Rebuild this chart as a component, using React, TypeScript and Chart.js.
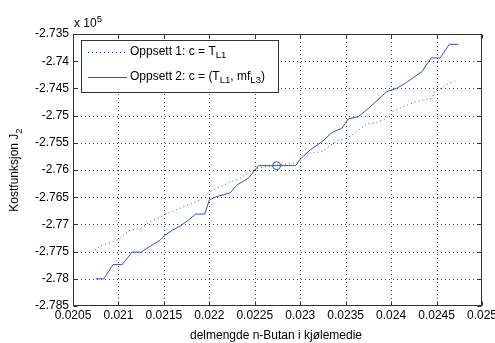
import { useEffect, useRef } from "react";
import { Chart, registerables } from "chart.js";
Chart.register(...registerables);

const xTickValues = [0.0205, 0.021, 0.0215, 0.022, 0.0225, 0.023, 0.0235, 0.024, 0.0245, 0.025];
const xTickLabels = ["0.0205", "0.021", "0.0215", "0.022", "0.0225", "0.023", "0.0235", "0.024", "0.0245", "0.025"];
const yTickValues = [-2.785, -2.78, -2.775, -2.77, -2.765, -2.76, -2.755, -2.75, -2.745, -2.74, -2.735];
const yTickLabels = ["-2.785", "-2.78", "-2.775", "-2.77", "-2.765", "-2.76", "-2.755", "-2.75", "-2.745", "-2.74", "-2.735"];

const series1Label = "Oppsett 1: c = T_L1";
const series1X = [0.02074, 0.02082, 0.02098, 0.02104, 0.02113, 0.02124, 0.02135, 0.02146, 0.02157, 0.02171, 0.02186, 0.02197, 0.022, 0.02212, 0.02223, 0.02234, 0.02243, 0.02252, 0.0227, 0.0229, 0.023, 0.02311, 0.02325, 0.02331, 0.02342, 0.02351, 0.02362, 0.02373, 0.02384, 0.02395, 0.02402, 0.02413, 0.02428, 0.02445, 0.02448, 0.02456, 0.02463, 0.0247];
const series1Y = [-2.7747, -2.7738, -2.773, -2.7722, -2.771, -2.7708, -2.7695, -2.7686, -2.7677, -2.7668, -2.7658, -2.7646, -2.764, -2.7631, -2.7622, -2.7615, -2.7605, -2.7597, -2.7592, -2.7588, -2.7585, -2.7569, -2.7566, -2.7557, -2.7545, -2.7542, -2.753, -2.7515, -2.7513, -2.7505, -2.7492, -2.7484, -2.7474, -2.7468, -2.7453, -2.745, -2.7441, -2.7437];

const series2Label = "Oppsett 2: c = (T_L1, mf_L3)";
const series2X = [0.02075, 0.02084, 0.02094, 0.02104, 0.02115, 0.02125, 0.02134, 0.02146, 0.02151, 0.0216, 0.02168, 0.02177, 0.02185, 0.02195, 0.022, 0.02208, 0.02223, 0.0223, 0.02243, 0.02254, 0.02295, 0.023, 0.02311, 0.02324, 0.02335, 0.02346, 0.02353, 0.02364, 0.02377, 0.02395, 0.02406, 0.02417, 0.02434, 0.02444, 0.02454, 0.02464, 0.02474];
const series2Y = [-2.78, -2.78, -2.7774, -2.7774, -2.7751, -2.7751, -2.7741, -2.7729, -2.772, -2.771, -2.7703, -2.7692, -2.7681, -2.7681, -2.7655, -2.7649, -2.7642, -2.7628, -2.7615, -2.7592, -2.7592, -2.758, -2.7563, -2.7548, -2.7531, -2.7523, -2.7506, -2.7502, -2.7484, -2.7456, -2.745, -2.7439, -2.7419, -2.7394, -2.7394, -2.7369, -2.7369];

const markerX = [0.02274];
const markerY = [-2.7592];

const xTitle = "delmengde n-Butan i kjølemedie";
const yTitle = "Kostfunksjon J_2";
const yExponent = "x 10^5";

const FONT = "'Liberation Sans', Arial, Helvetica, sans-serif";
const LINE_COLOR = "#2f4fc4";
const AXIS_COLOR = "#333";

type Part = { t: string; sub?: boolean; sup?: boolean };

function parseRich(s: string): Part[] {
  const parts: Part[] = [];
  const re = /([_^])(\w+)|([^_^]+)/g;
  let m;
  while ((m = re.exec(s))) {
    if (m[3]) parts.push({ t: m[3] });
    else {
      // subscripts in these labels: L1, L3, 2 and superscript 5
      let tok = m[2];
      let rest = "";
      if (m[1] === "_" && /^L\d/.test(tok)) { rest = tok.slice(2); tok = tok.slice(0, 2); }
      parts.push(m[1] === "_" ? { t: tok, sub: true } : { t: tok, sup: true });
      if (rest) parts.push({ t: rest });
    }
  }
  return parts;
}

function richWidth(ctx: CanvasRenderingContext2D, parts: Part[], size: number) {
  let w = 0;
  for (const p of parts) {
    ctx.font = `${p.sub || p.sup ? size * 0.8 : size}px ${FONT}`;
    w += ctx.measureText(p.t).width;
  }
  return w;
}

function drawRich(ctx: CanvasRenderingContext2D, parts: Part[], x: number, y: number, size: number) {
  ctx.textBaseline = "middle";
  ctx.textAlign = "left";
  let cx = x;
  for (const p of parts) {
    const s = p.sub || p.sup ? size * 0.8 : size;
    ctx.font = `${s}px ${FONT}`;
    const dy = p.sub ? size * 0.35 : p.sup ? -size * 0.4 : 0;
    ctx.fillText(p.t, cx, y + dy);
    cx += ctx.measureText(p.t).width;
  }
}

const decorPlugin = {
  id: "decor",
  beforeDatasetsDraw(chart: any) {
    const { ctx, chartArea: a, scales } = chart;
    ctx.save();
    ctx.strokeStyle = "rgba(0,0,0,0.75)";
    ctx.lineWidth = 1;
    ctx.setLineDash([1, 3]);
    for (const v of xTickValues.slice(1, -1)) {
      const px = Math.round(scales.x.getPixelForValue(v)) + 0.5;
      ctx.beginPath();
      ctx.moveTo(px, a.top);
      ctx.lineTo(px, a.bottom);
      ctx.stroke();
    }
    for (const v of yTickValues.slice(1, -1)) {
      const py = Math.round(scales.y.getPixelForValue(v)) + 0.5;
      ctx.beginPath();
      ctx.moveTo(a.left, py);
      ctx.lineTo(a.right, py);
      ctx.stroke();
    }
    ctx.restore();
  },
  afterDraw(chart: any) {
    const { ctx, chartArea: a, scales } = chart;
    ctx.save();
    const L = Math.round(a.left) + 0.5, R = Math.round(a.right) - 0.5;
    const T = Math.round(a.top) + 0.5, B = Math.round(a.bottom) - 0.5;
    ctx.strokeStyle = AXIS_COLOR;
    ctx.lineWidth = 1;
    ctx.setLineDash([]);
    ctx.strokeRect(L, T, R - L, B - T);
    const tl = 4;
    ctx.beginPath();
    for (const v of xTickValues) {
      const px = Math.round(scales.x.getPixelForValue(v)) + 0.5;
      ctx.moveTo(px, B); ctx.lineTo(px, B - tl);
      ctx.moveTo(px, T); ctx.lineTo(px, T + tl);
    }
    for (const v of yTickValues) {
      const py = Math.round(scales.y.getPixelForValue(v)) + 0.5;
      ctx.moveTo(L, py); ctx.lineTo(L + tl, py);
      ctx.moveTo(R, py); ctx.lineTo(R - tl, py);
    }
    ctx.stroke();

    // legend
    const lx = 81.5, ly = 40.5, lw = 197, lh = 52;
    ctx.fillStyle = "#fff";
    ctx.fillRect(lx, ly, lw, lh);
    ctx.strokeStyle = AXIS_COLOR;
    ctx.strokeRect(lx, ly, lw, lh);
    const rows = [
      { label: series1Label, dash: [1, 3], y: 52.5 },
      { label: series2Label, dash: [], y: 77.5 },
    ];
    for (const r of rows) {
      ctx.strokeStyle = LINE_COLOR;
      ctx.setLineDash(r.dash);
      ctx.beginPath();
      ctx.moveTo(88, r.y);
      ctx.lineTo(127, r.y);
      ctx.stroke();
      ctx.setLineDash([]);
      ctx.fillStyle = "#000";
      drawRich(ctx, parseRich(r.label), 130, r.y - 1, 12);
    }

    // exponent
    ctx.fillStyle = "#000";
    drawRich(ctx, parseRich(yExponent), 74, 24, 12);

    // x title
    const xp = parseRich(xTitle);
    const xw = richWidth(ctx, xp, 12);
    drawRich(ctx, xp, 276 - xw / 2, 336, 12);

    // y title
    const yp = parseRich(yTitle);
    const yw = richWidth(ctx, yp, 12);
    ctx.translate(15, 170);
    ctx.rotate(-Math.PI / 2);
    drawRich(ctx, yp, -yw / 2, 0, 12);
    ctx.restore();
  },
};

export default function App() {
  const ref = useRef<HTMLCanvasElement>(null);
  useEffect(() => {
    document.body.style.margin = "0";
    const toPts = (xs: number[], ys: number[]) => xs.map((x, i) => ({ x, y: ys[i] }));
    const chart = new Chart(ref.current!, {
      type: "scatter",
      data: {
        datasets: [
          {
            label: series1Label,
            data: toPts(series1X, series1Y),
            showLine: true,
            borderColor: LINE_COLOR,
            borderWidth: 1,
            borderDash: [1, 3],
            pointRadius: 0,
          },
          {
            label: series2Label,
            data: toPts(series2X, series2Y),
            showLine: true,
            borderColor: LINE_COLOR,
            borderWidth: 1,
            pointRadius: 0,
          },
          {
            label: "marker",
            data: toPts(markerX, markerY),
            showLine: false,
            borderColor: LINE_COLOR,
            backgroundColor: "rgba(0,0,0,0)",
            borderWidth: 1,
            pointRadius: 4,
            pointStyle: "circle",
          },
        ],
      },
      options: {
        animation: false,
        responsive: false,
        devicePixelRatio: 1,
        layout: { padding: { top: 34, right: 13, left: 0, bottom: 0 } },
        plugins: { legend: { display: false }, tooltip: { enabled: false } },
        scales: {
          x: {
            type: "linear",
            min: 0.0205,
            max: 0.025,
            grid: { display: false, drawTicks: false },
            border: { display: false },
            afterBuildTicks: (s: any) => { s.ticks = xTickValues.map((v) => ({ value: v })); },
            afterFit: (s: any) => { s.height = 37; s.paddingLeft = 0; s.paddingRight = 0; },
            ticks: {
              autoSkip: false,
              maxRotation: 0,
              padding: 2,
              color: "#000",
              font: { family: FONT, size: 12 },
              callback: (_v: any, i: number) => xTickLabels[i],
            },
          },
          y: {
            type: "linear",
            min: -2.785,
            max: -2.735,
            grid: { display: false, drawTicks: false },
            border: { display: false },
            afterBuildTicks: (s: any) => { s.ticks = yTickValues.map((v) => ({ value: v })); },
            afterFit: (s: any) => { s.width = 73; s.paddingTop = 0; s.paddingBottom = 0; },
            ticks: {
              autoSkip: false,
              padding: 4,
              color: "#000",
              font: { family: FONT, size: 12 },
              callback: (_v: any, i: number) => yTickLabels[i],
            },
          },
        },
      },
      plugins: [decorPlugin],
    });
    return () => chart.destroy();
  }, []);
  return (
    <div style={{ position: "absolute", left: 0, top: 0, width: 495, height: 343, background: "#fff" }}>
      <canvas ref={ref} width={495} height={343} />
    </div>
  );
}
